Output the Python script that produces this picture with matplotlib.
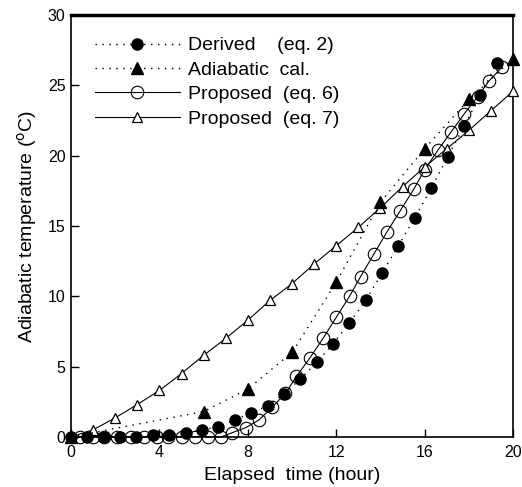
import matplotlib.pyplot as plt

plt.rcParams['font.family'] = ['Liberation Sans', 'DejaVu Sans']

# Derived (eq. 2)
derived_t = [0.0, 0.74, 1.48, 2.22, 2.96, 3.70, 4.44, 5.19, 5.93, 6.67, 7.41, 8.15, 8.89,
             9.63, 10.37, 11.11, 11.85, 12.59, 13.33, 14.07, 14.81, 15.56, 16.30, 17.04,
             17.78, 18.52, 19.26]
derived_T = [0, 0, 0, 0, 0, 0.14, 0.14, 0.28, 0.5, 0.7, 1.2, 1.7, 2.2, 3.05, 4.1, 5.3,
             6.6, 8.1, 9.7, 11.65, 13.6, 15.6, 17.7, 19.9, 22.1, 24.3, 26.6]

# Adiabatic cal.
adia_t = [0, 6, 8, 10, 12, 14, 16, 18, 20]
adia_T = [0, 1.8, 3.4, 6.0, 11.0, 16.7, 20.5, 24.0, 26.9]

# Proposed (eq. 6)
eq6_t = [0.4, 1.0, 1.5, 2.1, 2.7, 3.3, 3.9, 4.4, 5.0, 5.6, 6.2, 6.8, 7.3, 7.9, 8.5, 9.1,
         9.7, 10.2, 10.8, 11.4, 12.0, 12.6, 13.1, 13.7, 14.3, 14.9, 15.5, 16.0, 16.6,
         17.2, 17.8, 18.4, 18.9, 19.5]
eq6_T = [0, 0, 0, 0, 0, 0, 0, 0, 0, 0, 0, 0, 0.3, 0.65, 1.2, 2.1, 3.1, 4.3, 5.6, 7.0,
         8.5, 10.0, 11.4, 13.0, 14.6, 16.1, 17.6, 19.0, 20.4, 21.7, 23.0, 24.2, 25.3, 26.3]

# Proposed (eq. 7)
eq7_t = list(range(21))
eq7_T = [0, 0.5, 1.35, 2.3, 3.3, 4.5, 5.8, 7.0, 8.3, 9.7, 10.9, 12.3, 13.6, 14.9, 16.3,
         17.8, 19.2, 20.5, 21.8, 23.2, 24.6]

xticks = [0, 4, 8, 12, 16, 20]
yticks = [0, 5, 10, 15, 20, 25, 30]

fig = plt.figure(figsize=(5.22, 4.87), dpi=100)
ax = fig.add_axes([0.136, 0.103, 0.847, 0.866])

dots = (0, (1, 4))
ax.plot(derived_t, derived_T, color='black', ls=dots, lw=1, marker='o', ms=8,
        mfc='black', mec='black', label='Derived    (eq. 2)', clip_on=False, zorder=4)
ax.plot(adia_t, adia_T, color='black', ls=dots, lw=1, marker='^', ms=8,
        mfc='black', mec='black', label='Adiabatic  cal.', clip_on=False, zorder=4)
ax.plot(eq6_t, eq6_T, color='black', ls='-', lw=0.8, marker='o', ms=9,
        mfc='none', mec='black', mew=0.8, label='Proposed  (eq. 6)', clip_on=False, zorder=3)
ax.plot(eq7_t, eq7_T, color='black', ls='-', lw=0.8, marker='^', ms=7,
        mfc='white', mec='black', mew=0.9, label='Proposed  (eq. 7)', clip_on=False, zorder=3)

ax.set_xlim(0, 20)
ax.set_ylim(0, 30)
ax.set_xticks(xticks)
ax.set_yticks(yticks)
ax.tick_params(direction='in', length=6, width=1, labelsize=11.5)
ax.tick_params(axis='x', pad=6)
ax.tick_params(axis='y', pad=4)
for s in ['left', 'bottom', 'right']:
    ax.spines[s].set_linewidth(1.2)
ax.spines['top'].set_linewidth(2.5)

ax.set_xlabel('Elapsed  time (hour)', fontsize=14, labelpad=5)
ax.set_ylabel('Adiabatic temperature ($^{\\rm o}$C)', fontsize=14, labelpad=6)

ax.legend(loc='upper left', bbox_to_anchor=(0.036, 0.967), frameon=False, fontsize=14,
          handlelength=4.4, handletextpad=0.4, labelspacing=0.35, borderaxespad=0)

fig.savefig('out.png', dpi=100)
